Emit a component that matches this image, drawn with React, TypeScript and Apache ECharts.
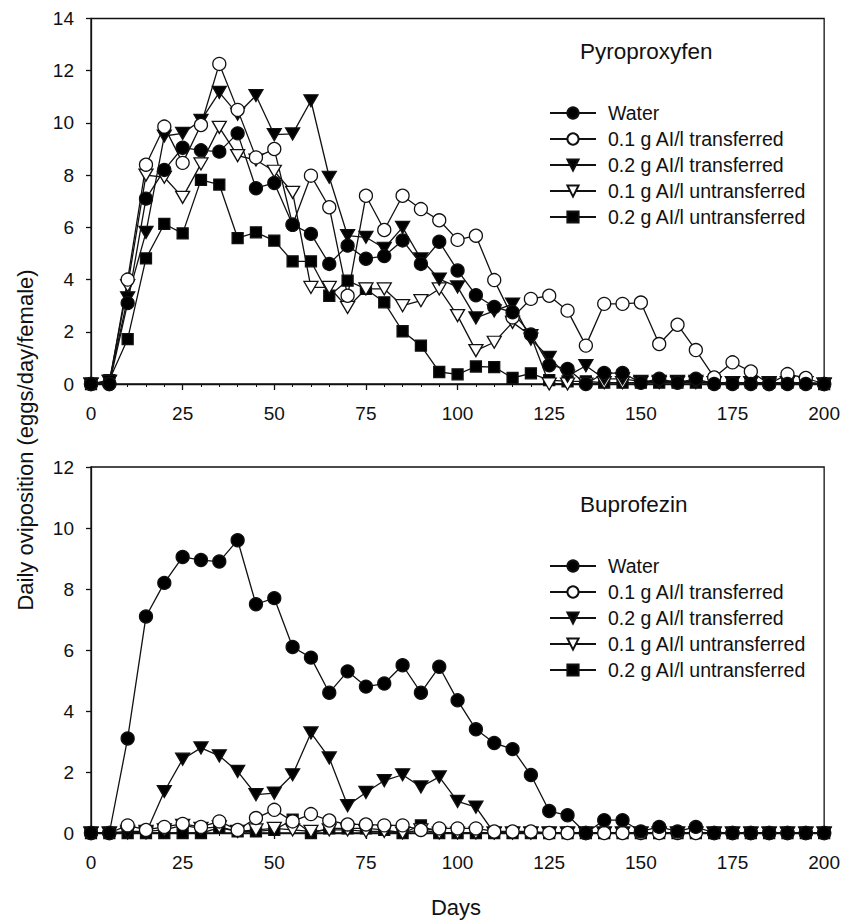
import React, { useEffect, useRef } from "react";
import * as echarts from "echarts";

// Days (x values), every 5 days
const days = [0, 5, 10, 15, 20, 25, 30, 35, 40, 45, 50, 55, 60, 65, 70, 75, 80, 85, 90, 95, 100, 105, 110, 115, 120, 125, 130, 135, 140, 145, 150, 155, 160, 165, 170, 175, 180, 185, 190, 195, 200];

const seriesNames = [
  "Water",
  "0.1 g AI/l transferred",
  "0.2 g AI/l transferred",
  "0.1 g AI/l untransferred",
  "0.2 g AI/l untransferred",
];

const xTicks = [0, 25, 50, 75, 100, 125, 150, 175, 200];

// Water control (same in both panels)
const water = [0, 0, 3.1, 7.1, 8.2, 9.05, 8.95, 8.9, 9.6, 7.5, 7.7, 6.1, 5.75, 4.6, 5.3, 4.8, 4.9, 5.5, 4.6, 5.45, 4.35, 3.4, 2.95, 2.75, 1.9, 0.72, 0.58, 0, 0.42, 0.42, 0.05, 0.2, 0.05, 0.2, 0, 0, 0, 0, 0, 0, 0];

// Pyroproxyfen panel
const pyroT01 = [0, 0, 4.0, 8.4, 9.86, 8.47, 9.92, 12.26, 10.5, 8.68, 9.0, 6.1, 7.98, 6.77, 3.38, 7.21, 5.9, 7.21, 6.7, 6.27, 5.52, 5.68, 3.98, 2.55, 3.26, 3.38, 2.81, 1.47, 3.07, 3.07, 3.12, 1.53, 2.27, 1.3, 0.25, 0.83, 0.48, 0, 0.38, 0.23, 0];
const pyroT02 = [0, 0.1, 3.3, 5.81, 9.5, 9.6, 10.1, 11.17, 10.34, 11.05, 9.55, 9.58, 10.85, 7.92, 5.68, 5.62, 5.2, 6.0, 4.79, 4.02, 3.72, 2.53, 2.8, 3.06, 1.72, 1.02, 0.3, 0.7, 0.2, 0.2, 0.1, 0.1, 0.1, 0.1, 0.05, 0.05, 0.05, 0.05, 0.05, 0.05, 0];
const pyroU01 = [0, 0.1, 3.77, 8.0, 7.92, 7.15, 8.43, 9.83, 8.75, 8.58, 8.15, 7.34, 3.7, 3.7, 2.93, 3.64, 3.64, 3.0, 3.19, 3.64, 2.62, 1.28, 1.6, 2.36, 1.85, 0, 0, 0, 0.05, 0.05, 0.05, 0.05, 0.05, 0.05, 0.05, 0.05, 0.05, 0, 0.05, 0.05, 0];
const pyroU02 = [0, 0.15, 1.72, 4.81, 6.13, 5.77, 7.82, 7.64, 5.59, 5.81, 5.49, 4.7, 4.7, 3.38, 3.96, 3.64, 3.13, 2.02, 1.47, 0.46, 0.37, 0.67, 0.65, 0.23, 0.41, 0.15, 0.1, 0.1, 0.05, 0.05, 0.05, 0.05, 0.05, 0.05, 0.05, 0.05, 0.05, 0.05, 0.05, 0.05, 0];

// Buprofezin panel
const bupT01 = [0, 0, 0.25, 0.1, 0.2, 0.3, 0.2, 0.38, 0.1, 0.49, 0.76, 0.38, 0.62, 0.41, 0.28, 0.28, 0.25, 0.25, 0.1, 0.15, 0.15, 0.15, 0.05, 0.05, 0.05, 0, 0, 0, 0, 0, 0, 0, 0, 0, 0, 0, 0, 0, 0, 0, 0];
const bupT02 = [0, 0, 0, 0, 1.36, 2.42, 2.79, 2.53, 2.02, 1.26, 1.31, 1.91, 3.28, 2.46, 0.9, 1.33, 1.72, 1.91, 1.51, 1.84, 1.04, 0.85, 0, 0, 0, 0, 0, 0, 0, 0, 0, 0, 0, 0, 0, 0, 0, 0, 0, 0, 0];
const bupU01 = [0, 0, 0.05, 0.05, 0.1, 0.25, 0.15, 0.2, 0.05, 0.1, 0.15, 0.1, 0.05, 0.1, 0.1, 0.05, 0.05, 0, 0.1, 0, 0, 0, 0, 0, 0, 0, 0, 0, 0, 0, 0, 0, 0, 0, 0, 0, 0, 0, 0, 0, 0];
const bupU02 = [0, 0, 0, 0, 0, 0, 0, 0.17, 0.05, 0.05, 0.1, 0.44, 0, 0.15, 0.15, 0.15, 0.1, 0, 0.25, 0, 0, 0, 0, 0, 0, 0, 0, 0, 0, 0, 0, 0, 0, 0, 0, 0, 0, 0, 0, 0, 0];

const FONT = "'Liberation Sans', Arial, Helvetica, sans-serif";
const INK = "#111";
const TRI_DOWN = "path://M0,0L12,0L6,10.4Z";

const markerStyles = [
  { symbol: "circle", size: 13, fill: "#000" },
  { symbol: "circle", size: 13, fill: "#fff" },
  { symbol: TRI_DOWN, size: [14, 12], fill: "#000" },
  { symbol: TRI_DOWN, size: [14, 12], fill: "#fff" },
  { symbol: "rect", size: 11, fill: "#000" },
];

function makeSeries(values: number[][], gridIdx: number) {
  // draw order: untransferred first, water last (on top)
  const order = [4, 3, 2, 1, 0];
  return order.map((k) => ({
    name: seriesNames[k],
    type: "line",
    xAxisIndex: gridIdx,
    yAxisIndex: gridIdx,
    data: days.map((d, i) => [d, values[k][i]]),
    symbol: markerStyles[k].symbol,
    symbolSize: markerStyles[k].size,
    showAllSymbol: true,
    clip: false,
    lineStyle: { color: INK, width: 1.3 },
    itemStyle: { color: markerStyles[k].fill, borderColor: INK, borderWidth: 1.3 },
    emphasis: { disabled: true },
  }));
}

function xAxis(gridIndex: number) {
  return {
    type: "value",
    gridIndex,
    min: 0,
    max: 200,
    interval: 25,
    axisLine: { show: true, onZero: false, lineStyle: { color: INK, width: 1.3 } },
    axisTick: { show: true, length: 6, lineStyle: { color: INK, width: 1.3 } },
    minorTick: { show: true, splitNumber: 5, length: 3, lineStyle: { color: INK, width: 1 } },
    splitLine: { show: false },
    axisLabel: {
      margin: 20,
      fontSize: 19,
      fontFamily: FONT,
      color: INK,
      formatter: (v: number) => (xTicks.includes(v) ? String(v) : ""),
    },
  };
}

function yAxis(gridIndex: number, max: number) {
  return {
    type: "value",
    gridIndex,
    min: 0,
    max,
    interval: 2,
    axisLine: { show: true, lineStyle: { color: INK, width: 1.3 } },
    axisTick: { show: true, length: 5, lineStyle: { color: INK, width: 1.3 } },
    splitLine: { show: false },
    axisLabel: { margin: 17, fontSize: 19, fontFamily: FONT, color: INK },
  };
}

function legend(top: number) {
  return {
    orient: "vertical",
    left: 549,
    top,
    padding: 0,
    itemWidth: 46,
    itemHeight: 14,
    itemGap: 6,
    selectedMode: false,
    data: seriesNames,
    textStyle: { fontSize: 19.5, fontFamily: FONT, color: INK, lineHeight: 20, padding: [0, 0, 0, 7] },
  };
}

export default function App() {
  const ref = useRef<HTMLDivElement>(null);
  useEffect(() => {
    document.body.style.margin = "0";
    const chart = echarts.init(ref.current!, undefined, { renderer: "svg" });
    const pyro = [water, pyroT01, pyroT02, pyroU01, pyroU02];
    const bup = [water, bupT01, bupT02, bupU01, bupU02];
    chart.setOption({
      animation: false,
      backgroundColor: "#fff",
      grid: [
        { left: 91, right: 17, top: 18.5, height: 365.5, show: true, borderColor: INK, borderWidth: 1.3 },
        { left: 91, right: 17, top: 467, height: 366, show: true, borderColor: INK, borderWidth: 1.3 },
      ],
      xAxis: [xAxis(0), xAxis(1)],
      yAxis: [yAxis(0, 14), yAxis(1, 12)],
      legend: [legend(103), legend(556)],
      series: [...makeSeries(pyro, 0), ...makeSeries(bup, 1)],
      graphic: [
        { type: "text", x: 580, y: 51, style: { text: "Pyroproxyfen", fontSize: 22.5, fontFamily: FONT, fill: INK, verticalAlign: "middle" } },
        { type: "text", x: 580, y: 504, style: { text: "Buprofezin", fontSize: 22.5, fontFamily: FONT, fill: INK, verticalAlign: "middle" } },
        { type: "text", x: 456, y: 907, style: { text: "Days", fontSize: 22, fontFamily: FONT, fill: INK, align: "center", verticalAlign: "middle" } },
        {
          type: "text",
          x: 25,
          y: 440,
          rotation: Math.PI / 2,
          style: { text: "Daily oviposition (eggs/day/female)", fontSize: 22, fontFamily: FONT, fill: INK, align: "center", verticalAlign: "middle" },
        },
      ],
    });
    return () => chart.dispose();
  }, []);
  return <div ref={ref} style={{ width: 843, height: 922 }} />;
}
